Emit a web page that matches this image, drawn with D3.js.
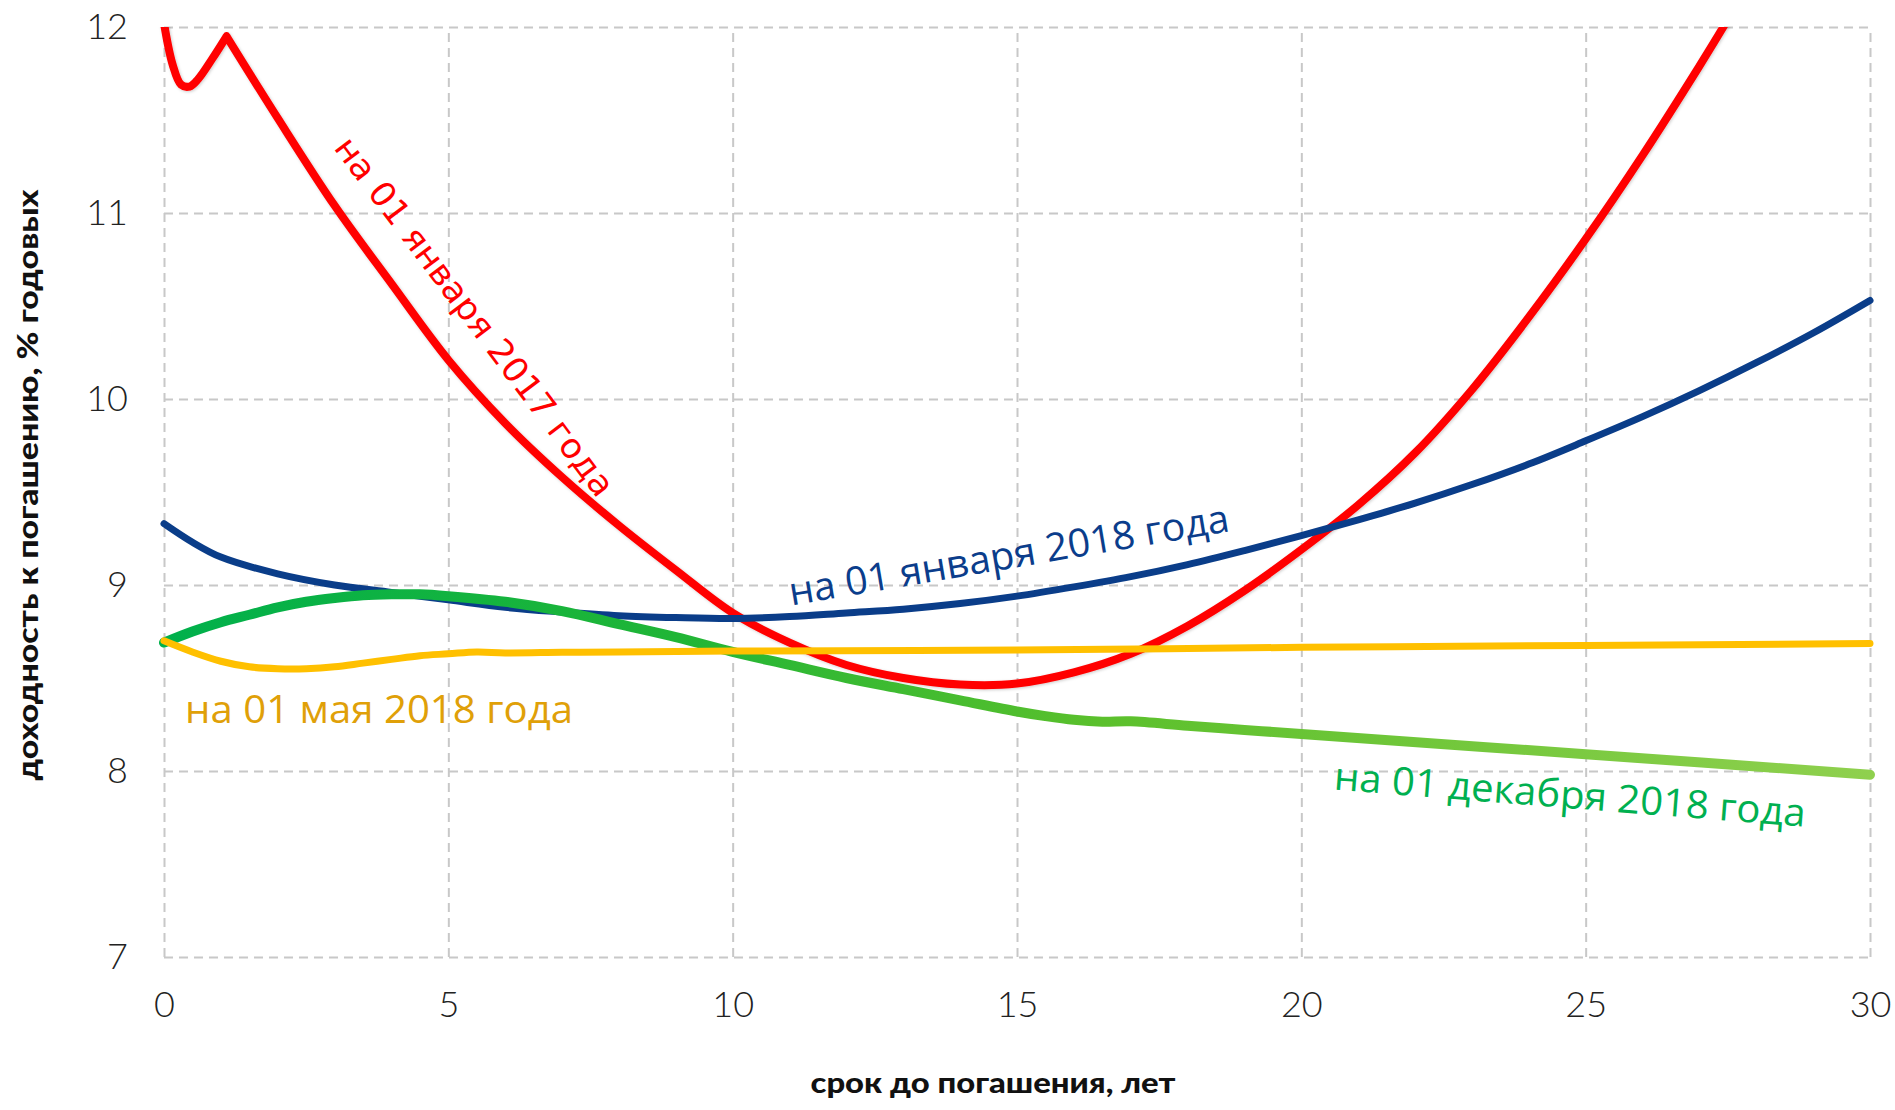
<!DOCTYPE html>
<meta charset="utf-8">
<title>Кривые доходности</title>
<style>

    body {
        margin: 0;
        background: #fff;
    }

    .grid line {
        stroke: #c8c8c8;
        stroke-width: 2px;
        stroke-dasharray: 9, 6;
    }

    .grid text {
        font-family: Lato, Roboto, sans-serif;
        font-weight: 300;
        font-size: 36px;
        fill: #222;
    }

    .curve {
        fill: none;
        stroke-linejoin: round;
        stroke-linecap: round;
    }

    .title {
        font-family: Lato, "DejaVu Sans", sans-serif;
        font-weight: 900;
        font-size: 29px;
        fill: #111;
    }

</style>
<body>
<script src="https://d3js.org/d3.v7.min.js"></script>
<script>

    // ticks
    var xTicks = [0, 5, 10, 15, 20, 25, 30],
        yTicks = [7, 8, 9, 10, 11, 12];

    // на 01 января 2017 года (red), kink at 1.1 years
    var redTerms = [0, 0.15, 0.3, 0.45, 0.6, 0.85, 1.1, 2, 3, 4, 5, 6, 7, 8, 9, 10, 11, 12, 13, 14, 15, 16, 17, 18, 19, 20, 21, 22, 23, 24, 25, 26, 27, 27.5, 28];
    var redYields = [12.02, 11.8, 11.69, 11.68, 11.72, 11.83, 11.95, 11.51, 11.04, 10.62, 10.21, 9.87, 9.58, 9.32, 9.08, 8.85, 8.69, 8.57, 8.50, 8.465, 8.47, 8.53, 8.63, 8.78, 8.97, 9.19, 9.43, 9.71, 10.05, 10.44, 10.86, 11.31, 11.79, 12.04, 12.3];
    var redKink = 1.1;

    // на 01 января 2018 года (blue)
    var blueTerms = [0, 0.5, 1, 2, 3, 4, 5, 6, 7, 8, 9, 10, 11, 12, 13, 14, 15, 16, 17, 18, 19, 20, 21, 22, 23, 24, 25, 26, 27, 28, 29, 30];
    var blueYields = [9.33, 9.23, 9.15, 9.06, 9.00, 8.96, 8.92, 8.88, 8.855, 8.835, 8.825, 8.82, 8.83, 8.85, 8.87, 8.90, 8.94, 8.99, 9.045, 9.11, 9.185, 9.265, 9.35, 9.44, 9.54, 9.65, 9.775, 9.905, 10.045, 10.195, 10.355, 10.53];

    // на 01 мая 2018 года (yellow)
    var yellowTerms = [0, 0.5, 1, 1.5, 2, 2.5, 3, 3.5, 4, 4.5, 5, 5.5, 6, 7, 8, 10, 15, 20, 25, 30];
    var yellowYields = [8.70, 8.64, 8.59, 8.56, 8.55, 8.55, 8.56, 8.58, 8.60, 8.62, 8.63, 8.64, 8.635, 8.638, 8.64, 8.645, 8.65, 8.665, 8.675, 8.685];

    // на 01 декабря 2018 года (green)
    var greenTerms = [0, 0.5, 1, 1.5, 2, 2.5, 3, 3.5, 4, 4.5, 5, 6, 7, 8, 9, 10, 11, 12, 13, 14, 15, 15.5, 16, 16.5, 17, 18, 19, 20, 25, 30];
    var greenYields = [8.69, 8.75, 8.80, 8.84, 8.88, 8.91, 8.93, 8.945, 8.95, 8.95, 8.94, 8.91, 8.86, 8.79, 8.72, 8.64, 8.57, 8.50, 8.44, 8.38, 8.32, 8.295, 8.275, 8.265, 8.267, 8.243, 8.221, 8.199, 8.09, 7.98];

    var w = 1895,
        h = 1110,
        plotL = 164,
        plotR = 1870,
        plotT = 27,
        plotB = 957;

    var x = d3.scaleLinear().domain([0, 30]).range([plotL, plotR]),
        y = d3.scaleLinear().domain([7, 12]).range([plotB, plotT]);

    var svg = d3.select("body").append("svg")
        .attr("width", w)
        .attr("height", h);

    var defs = svg.append("defs");

    defs.append("clipPath").attr("id", "plot")
        .append("rect")
        .attr("x", plotL - 10)
        .attr("y", plotT)
        .attr("width", plotR - plotL + 20)
        .attr("height", plotB - plotT);

    var grad = defs.append("linearGradient")
        .attr("id", "greenGrad")
        .attr("gradientUnits", "userSpaceOnUse")
        .attr("x1", x(0)).attr("x2", x(30))
        .attr("y1", 0).attr("y2", 0);
    grad.append("stop").attr("offset", "0%").attr("stop-color", "#00b04c");
    grad.append("stop").attr("offset", "30%").attr("stop-color", "#20b536");
    grad.append("stop").attr("offset", "55%").attr("stop-color", "#5bc02c");
    grad.append("stop").attr("offset", "100%").attr("stop-color", "#8fd04e");

    var shadow = defs.append("filter").attr("id", "shadow")
        .attr("x", "-5%").attr("y", "-5%").attr("width", "110%").attr("height", "110%");
    shadow.append("feDropShadow")
        .attr("dx", 1).attr("dy", 1)
        .attr("stdDeviation", 1.5)
        .attr("flood-color", "#000")
        .attr("flood-opacity", 0.2);

    // grid + tick labels
    svg.append("g")
        .attr("class", "grid")
        .attr("transform", "translate(" + plotL + ",0)")
        .call(d3.axisLeft(y).tickValues(yTicks).tickSize(-(plotR - plotL)).tickPadding(36).tickFormat(d3.format("d")))
        .call(function(g) { g.select(".domain").remove(); });

    svg.append("g")
        .attr("class", "grid")
        .attr("transform", "translate(0," + plotB + ")")
        .call(d3.axisBottom(x).tickValues(xTicks).tickSize(-(plotB - plotT)).tickPadding(34).tickFormat(d3.format("d")))
        .call(function(g) { g.select(".domain").remove(); });

    svg.selectAll(".grid text").attr("fill", "#222");
    svg.selectAll(".grid line").attr("stroke", null);

    function pts(terms, yields) {
        return terms.map(function(t, i) { return [t, yields[i]]; });
    }

    var line = d3.line()
        .x(function(d) { return x(d[0]); })
        .y(function(d) { return y(d[1]); })
        .curve(d3.curveCatmullRom.alpha(0.5));

    var curves = svg.append("g").attr("clip-path", "url(#plot)");

    var red = pts(redTerms, redYields);
    curves.append("path")
        .attr("class", "curve")
        .attr("d", line(red.filter(function(d) { return d[0] <= redKink; })) +
                   line(red.filter(function(d) { return d[0] >= redKink; })))
        .attr("stroke", "#ff0000")
        .attr("stroke-width", 8)
        .attr("filter", "url(#shadow)");

    curves.append("path")
        .attr("class", "curve")
        .attr("d", line(pts(blueTerms, blueYields)))
        .attr("stroke", "#0a3d89")
        .attr("stroke-width", 7);

    curves.append("path")
        .attr("class", "curve")
        .attr("d", line(pts(greenTerms, greenYields)))
        .attr("stroke", "url(#greenGrad)")
        .attr("stroke-width", 10)
        .attr("stroke-linecap", "butt");

    curves.append("path")
        .attr("class", "curve")
        .attr("d", line(pts(yellowTerms, yellowYields)))
        .attr("stroke", "#ffc000")
        .attr("stroke-width", 7)
        .attr("stroke-linecap", "butt");

    // series labels
    var labels = [
        {text: "на 01 января 2017 года", t: 2.97, v: 11.35, angle: 53, len: 440, size: 34, color: "#ff0000", font: "'DejaVu Sans', sans-serif"},
        {text: "на 01 января 2018 года", t: 11.03, v: 8.89, angle: -9.6, len: 446, size: 39, color: "#0b3d8b", font: "'Open Sans', sans-serif"},
        {text: "на 01 мая 2018 года", t: 0.37, v: 8.26, angle: 0, len: 388, size: 39, color: "#e0a008", font: "'Open Sans', sans-serif"},
        {text: "на 01 декабря 2018 года", t: 20.56, v: 7.90, angle: 4.5, len: 473, size: 39, color: "#00b050", font: "'Open Sans', sans-serif"}
    ];

    svg.selectAll(".label")
        .data(labels)
        .enter().append("text")
        .attr("class", "label")
        .attr("transform", function(d) { return "translate(" + x(d.t) + "," + y(d.v) + ")rotate(" + d.angle + ")"; })
        .attr("textLength", function(d) { return d.len; })
        .attr("lengthAdjust", "spacingAndGlyphs")
        .style("font-family", function(d) { return d.font; })
        .style("font-size", function(d) { return d.size + "px"; })
        .style("fill", function(d) { return d.color; })
        .text(function(d) { return d.text; });

    // axis titles
    svg.append("text")
        .attr("class", "title")
        .attr("x", 993)
        .attr("y", 1093)
        .attr("text-anchor", "middle")
        .attr("textLength", 365)
        .attr("lengthAdjust", "spacingAndGlyphs")
        .text("срок до погашения, лет");

    svg.append("text")
        .attr("class", "title")
        .attr("transform", "translate(38,485)rotate(-90)")
        .attr("text-anchor", "middle")
        .attr("textLength", 591)
        .attr("lengthAdjust", "spacingAndGlyphs")
        .text("доходность к погашению, % годовых");

</script>
